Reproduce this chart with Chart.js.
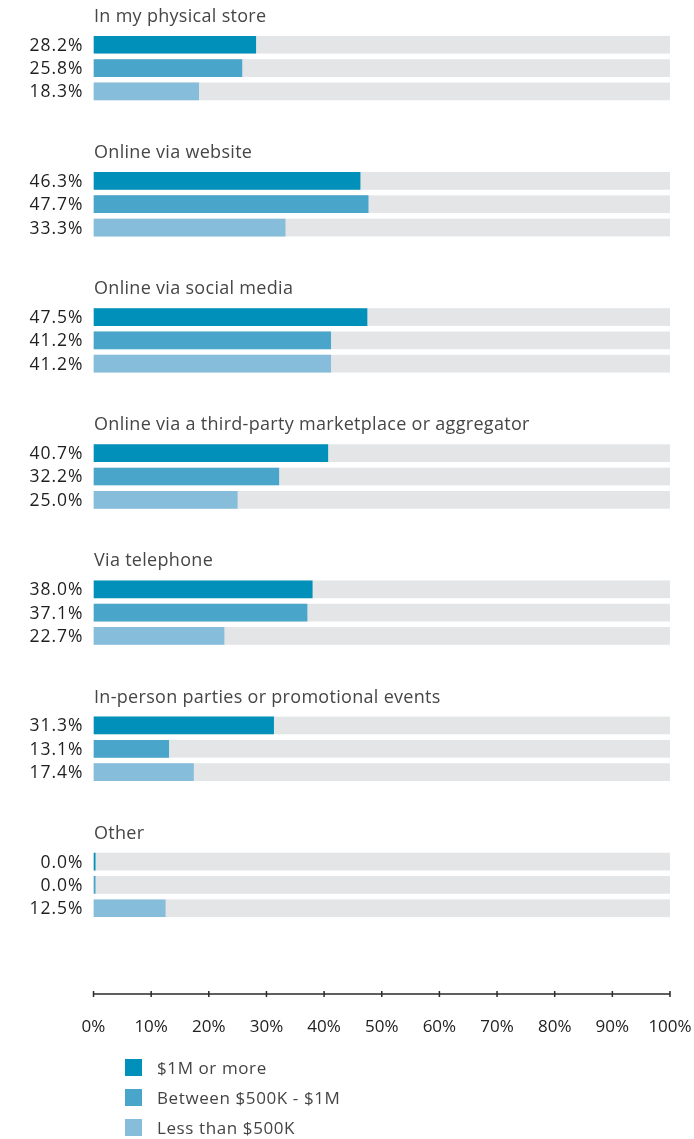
<!DOCTYPE html>
<html>
<head>
<meta charset="utf-8">
<script src="https://cdn.jsdelivr.net/npm/chart.js@4.4.1/dist/chart.umd.min.js"></script>
<style>
    body { margin: 0; background: #fff; }
    #wrap { position: relative; width: 694px; height: 1139px; }
    #legend { position: absolute; left: 125px; top: 1052px; font-family: 'Open Sans', sans-serif; font-size: 17px; letter-spacing: 0.6px; color: #444; }
    .legend-item { display: flex; align-items: center; height: 30px; }
    .legend-box { width: 17px; height: 17px; margin-right: 15px; }
</style>
</head>
<body>
<div id="wrap">
    <canvas id="chart" width="694" height="1139"></canvas>
    <div id="legend"></div>
</div>
<script>
const categories = [
    'In my physical store',
    'Online via website',
    'Online via social media',
    'Online via a third-party marketplace or aggregator',
    'Via telephone',
    'In-person parties or promotional events',
    'Other'
];
const seriesNames = ['$1M or more', 'Between $500K - $1M', 'Less than $500K'];
const over1M = [28.2, 46.3, 47.5, 40.7, 38.0, 31.3, 0.0];
const between500KAnd1M = [25.8, 47.7, 41.2, 32.2, 37.1, 13.1, 0.0];
const under500K = [18.3, 33.3, 41.2, 25.0, 22.7, 17.4, 12.5];
const tickValues = [0, 10, 20, 30, 40, 50, 60, 70, 80, 90, 100];

const colors = ['#0190b9', '#49a5ca', '#85bddb'];
const fontFamily = "'Open Sans', sans-serif";

// grey track behind every bar, from 0% to 100%
const trackPlugin = {
    id: 'tracks',
    beforeDatasetsDraw(chart) {
        const ctx = chart.ctx;
        const x = chart.scales.x;
        const x0 = x.getPixelForValue(0);
        const x1 = x.getPixelForValue(100);
        ctx.save();
        ctx.fillStyle = '#e4e5e7';
        chart.data.datasets.forEach((ds, i) => {
            chart.getDatasetMeta(i).data.forEach(bar => {
                const { y, height } = bar.getProps(['y', 'height'], true);
                ctx.fillRect(x0, y - height / 2, x1 - x0, height);
            });
        });
        ctx.restore();
    }
};

// category titles and value labels
const labelPlugin = {
    id: 'labels',
    afterDatasetsDraw(chart) {
        const ctx = chart.ctx;
        const left = chart.chartArea.left;
        ctx.save();
        ctx.textBaseline = 'middle';

        ctx.font = '18px ' + fontFamily;
        ctx.letterSpacing = '0.3px';
        ctx.fillStyle = '#464646';
        ctx.textAlign = 'left';
        chart.getDatasetMeta(0).data.forEach((bar, j) => {
            ctx.fillText(categories[j], left + 0.5, bar.y - 28);
        });

        ctx.font = '17.5px ' + fontFamily;
        ctx.letterSpacing = '1px';
        ctx.fillStyle = '#1f1f1f';
        ctx.textAlign = 'right';
        chart.data.datasets.forEach((ds, i) => {
            chart.getDatasetMeta(i).data.forEach((bar, j) => {
                ctx.fillText(ds.data[j].toFixed(1) + '%', left - 10, bar.y + 1);
            });
        });
        ctx.restore();
    }
};

// axis line with small tick marks, sitting a little below the bars
const axisPlugin = {
    id: 'axisLine',
    afterDraw(chart) {
        const ctx = chart.ctx;
        const x = chart.scales.x;
        const y = chart.chartArea.bottom + 41;
        ctx.save();
        ctx.strokeStyle = '#2b2b2b';
        ctx.lineWidth = 1.5;
        ctx.beginPath();
        ctx.moveTo(x.getPixelForValue(0), y);
        ctx.lineTo(x.getPixelForValue(100), y);
        x.ticks.forEach(t => {
            const px = x.getPixelForValue(t.value);
            ctx.moveTo(px, y - 3);
            ctx.lineTo(px, y + 3);
        });
        ctx.stroke();
        ctx.restore();
    }
};

const chart = new Chart(document.getElementById('chart'), {
    type: 'bar',
    data: {
        labels: categories,
        datasets: [over1M, between500KAnd1M, under500K].map((values, i) => ({
            label: seriesNames[i],
            data: values,
            backgroundColor: colors[i],
            categoryPercentage: 0.514,
            barPercentage: 0.76,
            minBarLength: 2
        }))
    },
    options: {
        indexAxis: 'y',
        responsive: false,
        animation: false,
        layout: {
            padding: { left: 93.5, right: 24, top: 0, bottom: 86 }
        },
        scales: {
            y: { display: false },
            x: {
                min: 0,
                max: 100,
                afterBuildTicks: axis => {
                    axis.ticks = tickValues.map(v => ({ value: v }));
                },
                // fixed axis box so the big label padding does not squeeze the plot
                afterFit: axis => {
                    axis.height = 100;
                    axis.paddingLeft = 0;
                    axis.paddingRight = 0;
                    axis.paddingTop = 0;
                    axis.paddingBottom = 0;
                },
                grid: { display: false, drawTicks: false },
                border: { display: false },
                ticks: {
                    padding: 64,
                    maxRotation: 0,
                    color: '#222',
                    font: { family: fontFamily, size: 17 },
                    callback: v => v + '%'
                }
            }
        },
        plugins: {
            legend: { display: false },
            tooltip: { enabled: false }
        }
    },
    plugins: [trackPlugin, labelPlugin, axisPlugin]
});

// html legend from the chart's own datasets
const legendDiv = document.getElementById('legend');
chart.data.datasets.forEach(ds => {
    const item = document.createElement('div');
    item.className = 'legend-item';
    const box = document.createElement('span');
    box.className = 'legend-box';
    box.style.background = ds.backgroundColor;
    const text = document.createElement('span');
    text.textContent = ds.label;
    item.appendChild(box);
    item.appendChild(text);
    legendDiv.appendChild(item);
});
</script>
</body>
</html>
